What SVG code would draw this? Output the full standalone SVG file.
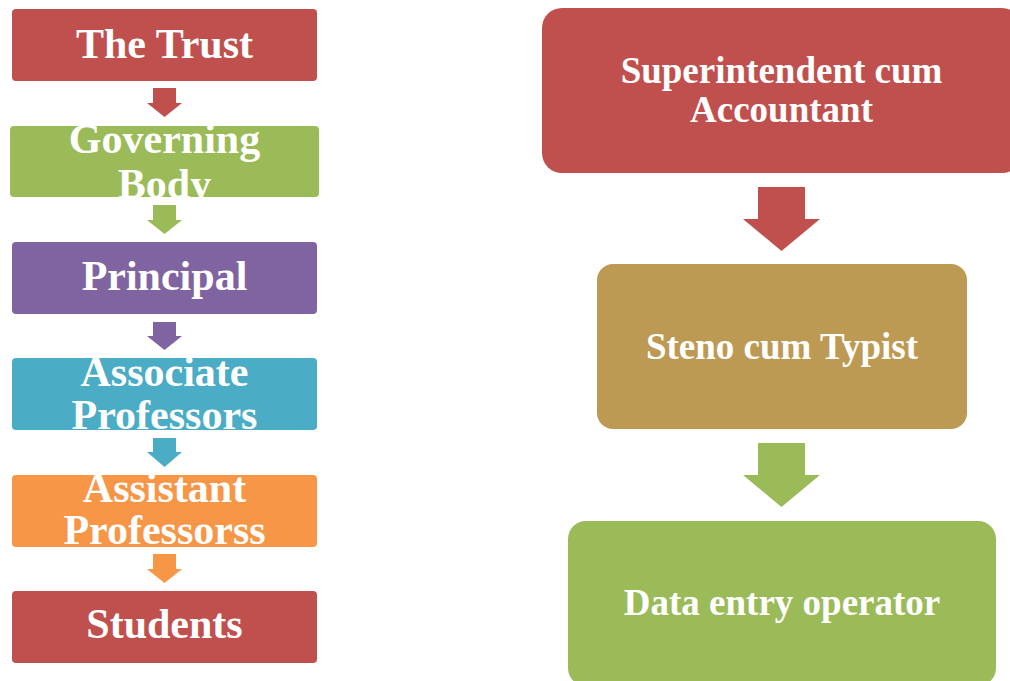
<svg xmlns="http://www.w3.org/2000/svg" width="1010" height="681" viewBox="0 0 1010 681">
<style>
text{font-family:"Liberation Serif","Times New Roman",serif;font-weight:bold;fill:#ffffff;text-anchor:middle}
.l{font-size:42px}
.r{font-size:37px}
.red{fill:#C0504D}.grn{fill:#9BBB59}.pur{fill:#8064A2}.aqu{fill:#4BACC6}.org{fill:#F79646}.gld{fill:#BD9A54}
</style>
<defs>
<clipPath id="cGov"><rect x="10" y="126" width="309" height="71" rx="4"/></clipPath>
<clipPath id="cAssoc"><rect x="12" y="358" width="305" height="72" rx="4"/></clipPath>
<clipPath id="cAssist"><rect x="12" y="475" width="305" height="72" rx="4"/></clipPath>
</defs>
<rect width="1010" height="681" fill="#ffffff"/>
<g id="connectors">
<path class="red" d="M153 88H176V103H182L164.5 117L147 103H153Z"/>
<path class="grn" d="M153 205H176V220H182L164.5 234L147 220H153Z"/>
<path class="pur" d="M153 322H176V336H182L164.5 350L147 336H153Z"/>
<path class="aqu" d="M153 438H176V452H182L164.5 467L147 452H153Z"/>
<path class="org" d="M153 554H176V569H182L164.5 583L147 569H153Z"/>
<path class="red" d="M758 187H805V219H820L781.5 251L743 219H758Z"/>
<path class="grn" d="M758 443H805V475H820L781.5 507L743 475H758Z"/>
</g>
<g id="trust"><rect class="red" x="12" y="9" width="305" height="72" rx="4"/><text class="l" x="164.5" y="58">The Trust</text></g>
<g id="governing"><rect class="grn" x="10" y="126" width="309" height="71" rx="4"/><g clip-path="url(#cGov)"><text class="l" x="164.5" y="153">Governing</text><text class="l" x="164.5" y="198">Body</text></g></g>
<g id="principal"><rect class="pur" x="12" y="242" width="305" height="72" rx="4"/><text class="l" x="164.5" y="290">Principal</text></g>
<g id="associate"><rect class="aqu" x="12" y="358" width="305" height="72" rx="4"/><g clip-path="url(#cAssoc)"><text class="l" x="164.5" y="386">Associate</text><text class="l" x="164.5" y="429">Professors</text></g></g>
<g id="assistant"><rect class="org" x="12" y="475" width="305" height="72" rx="4"/><g clip-path="url(#cAssist)"><text class="l" x="164.5" y="502">Assistant</text><text class="l" x="164.5" y="544">Professorss</text></g></g>
<g id="students"><rect class="red" x="12" y="591" width="305" height="72" rx="4"/><text class="l" x="164.5" y="638">Students</text></g>
<g id="superintendent"><rect class="red" x="542" y="8" width="480" height="165" rx="20"/><text class="r" x="781.5" y="83">Superintendent cum</text><text class="r" x="781.5" y="122">Accountant</text></g>
<g id="steno"><rect class="gld" x="597" y="264" width="370" height="165" rx="16"/><text class="r" x="782" y="359">Steno cum Typist</text></g>
<g id="dataentry"><rect class="grn" x="568" y="521" width="428" height="165" rx="18"/><text class="r" x="782" y="615">Data entry operator</text></g>
</svg>
